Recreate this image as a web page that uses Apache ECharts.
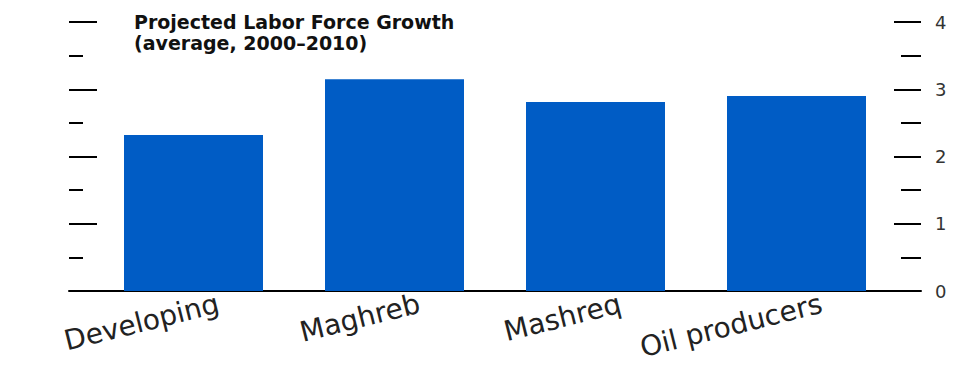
<!DOCTYPE html>
<html>
<head>
<meta charset="utf-8">
<script src="https://cdn.jsdelivr.net/npm/echarts@6/dist/echarts.min.js"></script>
<style>
html,body{margin:0;padding:0;background:#fff;}
#chart{width:957px;height:369px;}
</style>
</head>
<body>
<div id="chart"></div>
<script>
const categories = ["Developing", "Maghreb", "Mashreq", "Oil producers"];
const growth = [2.32, 3.15, 2.81, 2.9];
const yTicks = [0, 1, 2, 3, 4];
const titleLines = ["Projected Labor Force Growth", "(average, 2000\u20132010)"];

const chart = echarts.init(document.getElementById('chart'), null, {renderer: 'svg'});
const yMin = yTicks[0], yMax = yTicks[yTicks.length - 1];
const option = {
  animation: false,
  backgroundColor: '#ffffff',
  title: {
    text: titleLines.join('\n'),
    left: 129,
    top: 6,
    textStyle: {fontFamily: 'DejaVu Sans', fontSize: 19, fontWeight: 'bold', color: '#111', lineHeight: 21}
  },
  grid: [
    {left: 69, right: 36, top: 22, bottom: 78},
    {left: 93, right: 60, top: 22, bottom: 78},
    {left: 118, right: 35, top: 22, bottom: 78}
  ],
  xAxis: [
    {gridIndex: 0, type: 'value', min: 0, max: 1, position: 'bottom',
     axisLine: {show: true, onZero: false, lineStyle: {color: '#000', width: 2}},
     axisTick: {show: false}, axisLabel: {show: false}, splitLine: {show: false}},
    {gridIndex: 1, type: 'category', data: categories, position: 'bottom',
     axisLine: {show: false}, axisTick: {show: false}, axisLabel: {show: false}, splitLine: {show: false}},
    {gridIndex: 2, type: 'category', data: categories, position: 'bottom',
     axisLine: {show: false}, axisTick: {show: false}, splitLine: {show: false},
     axisLabel: {show: true, rotate: 14, margin: 12, interval: 0, fontFamily: 'DejaVu Sans', fontSize: 28, color: '#222'}}
  ],
  yAxis: [
    {gridIndex: 0, type: 'value', min: yMin, max: yMax, interval: 1, position: 'left',
     axisLine: {show: false}, splitLine: {show: false}, axisLabel: {show: false},
     axisTick: {show: true, inside: true, length: 28, lineStyle: {color: '#000', width: 2}},
     minorTick: {show: true, splitNumber: 2, length: 14, lineStyle: {color: '#000', width: 2}}},
    {gridIndex: 0, type: 'value', min: yMin, max: yMax, interval: 1, position: 'right',
     axisLine: {show: false}, splitLine: {show: false},
     axisLabel: {show: true, inside: false, margin: 14, fontFamily: 'DejaVu Sans', fontSize: 18, color: '#333'},
     axisTick: {show: true, inside: true, length: 27, lineStyle: {color: '#000', width: 2}},
     minorTick: {show: true, splitNumber: 2, length: 20, lineStyle: {color: '#000', width: 2}}},
    {gridIndex: 1, type: 'value', min: yMin, max: yMax, show: false},
    {gridIndex: 2, type: 'value', min: yMin, max: yMax, show: false}
  ],
  series: [
    {type: 'bar', xAxisIndex: 1, yAxisIndex: 2, data: growth, barWidth: 139,
     itemStyle: {color: '#005CC5'}}
  ]
};
chart.setOption(option);
</script>
</body>
</html>
